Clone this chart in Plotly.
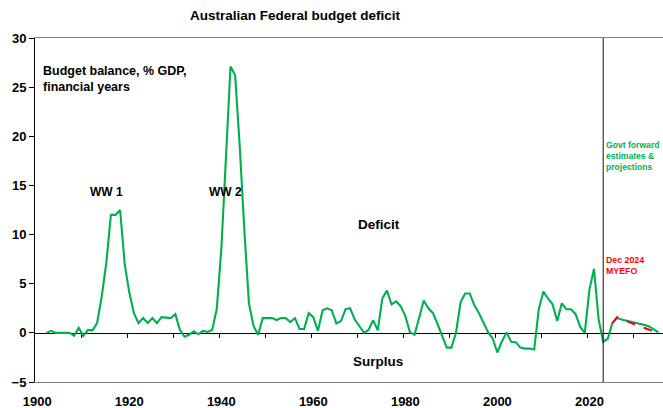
import plotly.graph_objects as go

# ---- data ----
years = list(range(1902, 2036))
balance = [
    0.0, 0.2, 0.0, 0.0, 0.0, 0.0, -0.3, 0.5, -0.3, 0.3,          # 1902-1911
    0.25, 1.0, 3.7, 7.1, 12.0, 12.0, 12.5, 7.0, 4.1, 2.0,         # 1912-1921
    1.0, 1.5, 1.0, 1.5, 1.0, 1.6, 1.55, 1.5, 1.9, 0.3,            # 1922-1931
    -0.4, -0.2, 0.15, -0.15, 0.2, 0.1, 0.3, 2.4, 8.5, 18.5,       # 1932-1941
    27.1, 26.2, 19.0, 10.5, 3.0, 0.7, -0.2, 1.5, 1.5, 1.5,        # 1942-1951
    1.3, 1.5, 1.5, 1.1, 1.5, 0.4, 0.4, 2.0, 1.6, 0.2,             # 1952-1961
    2.3, 2.5, 2.3, 0.95, 1.2, 2.4, 2.5, 1.35, 0.7, 0.0,           # 1962-1971
    0.3, 1.3, 0.25, 3.5, 4.3, 2.9, 3.2, 2.7, 1.7, 0.05,           # 1972-1981
    -0.2, 1.7, 3.3, 2.5, 2.0, 0.9, -0.35, -1.5, -1.5, 0.0,        # 1982-1991
    3.1, 4.0, 4.0, 2.8, 2.0, 1.1, 0.05, -0.6, -2.0, -0.85,        # 1992-2001
    0.05, -0.9, -0.95, -1.5, -1.6, -1.6, -1.7, 2.4, 4.2, 3.5,     # 2002-2011
    2.9, 1.2, 3.0, 2.4, 2.4, 1.9, 0.6, 0.0, 4.4, 6.5,             # 2012-2021
    1.4, -0.9, -0.6, 1.0, 1.5, 1.35, 1.25, 1.1, 1.0, 0.9,         # 2022-2031
    0.8, 0.65, 0.35, 0.05,                                        # 2032-2035
]
myefo_years = list(range(2025, 2036))
myefo = [1.0, 1.6, 1.4, 1.2, 1.0, 0.8, 0.65, 0.5, 0.35, 0.2, 0.0]

x_labels = [1900, 1920, 1940, 1960, 1980, 2000, 2020]
minor_ticks = [1909.5 + 10 * i for i in range(13)]
y_ticks = [-5, 0, 5, 10, 15, 20, 25, 30]
forecast_start = 2023

X_RANGE = [1899.5, 2036]
Y_RANGE = [-5, 30]
FONT = "Liberation Sans, Arial, sans-serif"
GREEN = "#00B050"
RED = "#FF0000"

fig = go.Figure()
fig.add_trace(go.Scatter(x=years, y=balance, mode="lines",
                         line=dict(color=GREEN, width=2.1), hoverinfo="skip",
                         showlegend=False))
fig.add_trace(go.Scatter(x=myefo_years, y=myefo, mode="lines",
                         line=dict(color=RED, width=2, dash="dash"), hoverinfo="skip",
                         showlegend=False))
# invisible helper trace so the zero-line tick axis is drawn
fig.add_trace(go.Scatter(x=[X_RANGE[0]], y=[0], xaxis="x2", mode="markers",
                         marker=dict(opacity=0), hoverinfo="skip", showlegend=False))

fig.add_shape(type="line", x0=forecast_start, x1=forecast_start, y0=Y_RANGE[0], y1=Y_RANGE[1],
              xref="x", yref="y", line=dict(color="#111111", width=1))

bold = dict(family=FONT, color="black", weight="bold")

fig.update_layout(
    width=663, height=408,
    margin=dict(l=35, r=0, t=38, b=26, pad=0),
    paper_bgcolor="white", plot_bgcolor="white",
    xaxis=dict(range=X_RANGE, tickvals=x_labels, ticktext=[str(v) for v in x_labels],
               ticks="outside", ticklen=7, tickcolor="rgba(0,0,0,0)",
               showline=True, linecolor="#7f7f7f", linewidth=1, mirror=True,
               showgrid=False, zeroline=False, tickfont=dict(size=13, **bold)),
    xaxis2=dict(range=X_RANGE, overlaying="x", anchor="free", position=5 / 35,
                side="bottom", tickvals=minor_ticks, showticklabels=False,
                ticks="outside", ticklen=4, tickcolor="black", tickwidth=1,
                showline=True, linecolor="black", linewidth=1,
                showgrid=False, zeroline=False, layer="below traces"),
    yaxis=dict(range=Y_RANGE, tickvals=y_ticks, ticks="outside", ticklen=5,
               tickcolor="black", showline=True, linecolor="black", linewidth=1,
               showgrid=False, zeroline=False, tickfont=dict(size=13, **bold)),
)

ann = [
    dict(text="Australian Federal budget deficit", xref="paper", yref="paper",
         x=(295 - 35) / 628, y=1 + (38 - 16) / 344, xanchor="center", yanchor="middle",
         font=dict(size=13.5, **bold)),
    dict(text="Budget balance, % GDP,<br>financial years", xref="x", yref="y",
         x=1901.0, y=25.8, xanchor="left", yanchor="middle", align="left",
         font=dict(size=12.5, **bold)),
    dict(text="WW 1", xref="x", yref="y", x=1915.1, y=14.3,
         xanchor="center", yanchor="middle", font=dict(size=12, **bold)),
    dict(text="WW 2", xref="x", yref="y", x=1940.8, y=14.3,
         xanchor="center", yanchor="middle", font=dict(size=12, **bold)),
    dict(text="Deficit", xref="x", yref="y", x=1974.3, y=11.0,
         xanchor="center", yanchor="middle", font=dict(size=13.5, **bold)),
    dict(text="Surplus", xref="x", yref="y", x=1974.1, y=-2.95,
         xanchor="center", yanchor="middle", font=dict(size=13.5, **bold)),
    dict(text="Govt forward<br>estimates &<br>projections", xref="x", yref="y",
         x=2023.5, y=18.0, xanchor="left", yanchor="middle", align="left",
         font=dict(size=8.6, family=FONT, color=GREEN, weight="bold")),
    dict(text="Dec 2024<br>MYEFO", xref="x", yref="y",
         x=2023.5, y=6.85, xanchor="left", yanchor="middle", align="left",
         font=dict(size=8.8, family=FONT, color=RED, weight="bold")),
]
for a in ann:
    a["showarrow"] = False
    a["borderpad"] = 0
    fig.add_annotation(**a)

fig.write_html("out.html")
